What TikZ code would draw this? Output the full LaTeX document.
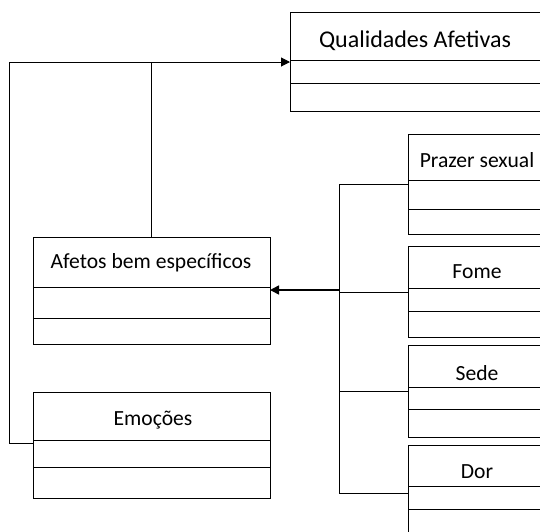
\documentclass[tikz,border=0pt]{standalone}
\usepackage{fontspec}
\setmainfont{Carlito}
\usetikzlibrary{arrows.meta,calc}
\tikzset{
  part/.style={draw, line width=1pt, inner sep=0pt, outer sep=0pt, fill=white},
  lbl/.style={inner sep=0pt, font=\fontsize{21.6}{25}\selectfont},
  biglbl/.style={inner sep=0pt, font=\fontsize{24}{28}\selectfont},
  conn/.style={line width=1pt},
  arr/.style={line width=1pt, -{Triangle[length=9pt,width=9pt]}},
  thickarr/.style={line width=1.6pt, -{Triangle[length=9pt,width=9pt]}}
}
\newcommand{\umlbox}[7]{%
  \node[part, minimum width=#4pt, minimum height=#5pt, anchor=north west] (#1) at (#2,#3) {};
  \node[part, minimum width=#4pt, minimum height=#6pt, anchor=north west] (#1b) at (#1.south west) {};
  \node[part, minimum width=#4pt, minimum height=#7pt, anchor=north west] (#1c) at (#1b.south west) {};
}
\begin{document}
\begin{tikzpicture}[x=1pt,y=-1pt]
\useasboundingbox (0,0) rectangle (540,531);
\clip (0,0) rectangle (540,531);
\fill[white] (0,0) rectangle (540,531);
% boxes
\umlbox{q}{290}{12}{252}{48}{23}{28}
\umlbox{a}{33}{237}{237}{50}{31}{26}
\umlbox{e}{33}{392}{237}{48}{27}{31}
\umlbox{p}{408}{134}{138}{46}{29}{25}
\umlbox{f}{408}{246}{138}{42}{23}{26}
\umlbox{s}{408}{345}{138}{42}{22}{28}
\umlbox{d}{408}{445}{138}{41}{23}{30}
% labels
\node[biglbl, anchor=base] (qt) at (415,47) {Qualidades Afetivas};
\node[lbl, anchor=base] (at) at (151,268) {Afetos bem específicos};
\node[lbl, anchor=base] (et) at (153,425) {Emoções};
\node[lbl, anchor=base] (pt) at (477,167) {Prazer sexual};
\node[lbl, anchor=base] (ft) at (477,278) {Fome};
\node[lbl, anchor=base] (st) at (477,380) {Sede};
\node[lbl, anchor=base] (dt) at (477,478) {Dor};
% connector points
\coordinate (qc) at ([yshift=-2pt]qb.north west);
\coordinate (ec) at ([yshift=-3pt]eb.north west);
\coordinate (ac) at ([yshift=-3pt]ab.north east);
\coordinate (pc) at ([yshift=-4pt]pb.north west);
\coordinate (fc) at ([yshift=-4pt]fb.north west);
\coordinate (sc) at ([yshift=-4pt]sb.north west);
\coordinate (dc) at ([yshift=-7pt]db.north west);
\coordinate (lx) at (9,0);
\coordinate (bus) at (339,0);
% left connectors
\draw[arr] (ec) -- (ec -| lx) -- (qc -| lx) -- (qc);
\draw[conn] (a.north) -- (a.north |- qc);
% right connectors
\draw[conn] (pc) -- (pc -| bus) -- (dc -| bus) -- (dc);
\draw[conn] (fc) -- (fc -| bus);
\draw[conn] (sc) -- (sc -| bus);
\draw[thickarr] (ac -| bus) -- (ac);
\end{tikzpicture}
\end{document}
